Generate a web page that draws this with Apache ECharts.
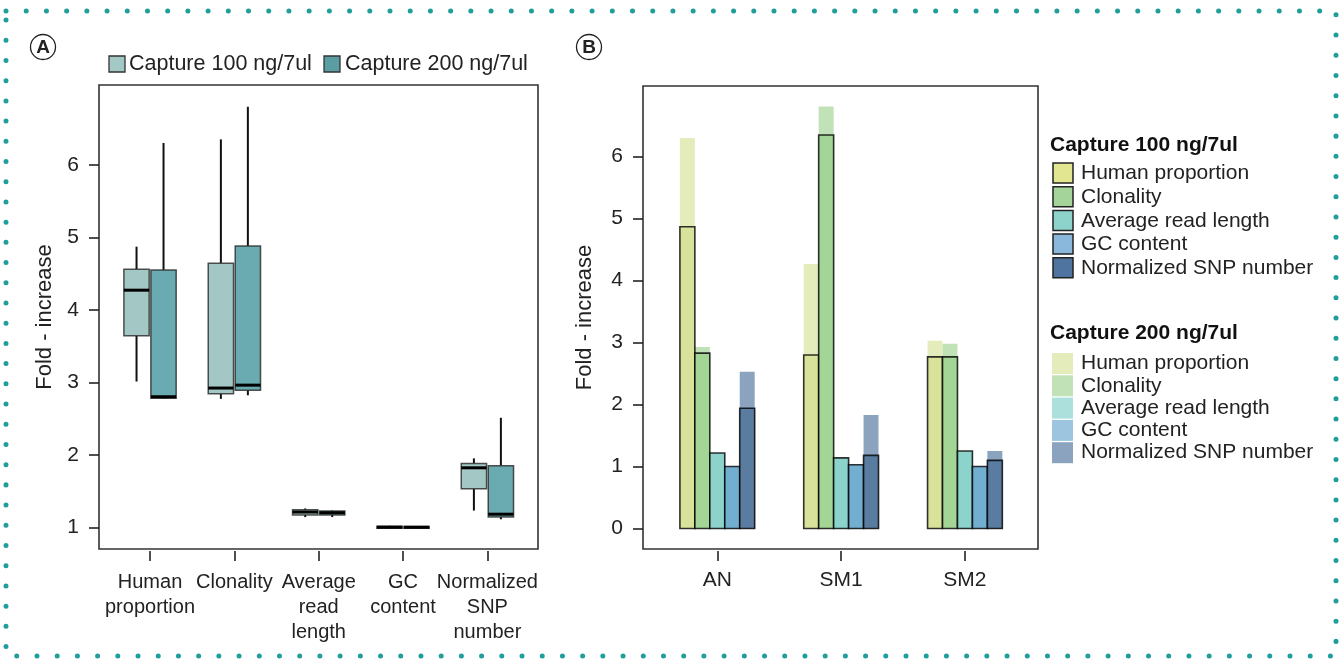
<!DOCTYPE html>
<html>
<head>
<meta charset="utf-8">
<script src="https://cdn.jsdelivr.net/npm/echarts@6/dist/echarts.min.js"></script>
<style>
html,body{margin:0;padding:0;background:#fff;}
#c{width:1343px;height:660px;}
</style>
</head>
<body>
<div id="c"></div>
<script>
// ---------- DATA ----------
const metricLabels = ['Human\nproportion', 'Clonality', 'Average\nread\nlength', 'GC\ncontent', 'Normalized\nSNP\nnumber'];
const metricNames = ['Human proportion', 'Clonality', 'Average read length', 'GC content', 'Normalized SNP number'];
const captureNames = ['Capture 100 ng/7ul', 'Capture 200 ng/7ul'];
const samples = ['AN', 'SM1', 'SM2'];
const yTicksA = [1, 2, 3, 4, 5, 6];
const yTicksB = [0, 1, 2, 3, 4, 5, 6];

// Box plot stats per metric: [low whisker, Q1, median, Q3, high whisker]
const box100 = [
  [3.01, 3.64, 4.27, 4.56, 4.87],
  [2.77, 2.84, 2.92, 4.64, 6.35],
  [1.14, 1.17, 1.21, 1.24, 1.26],
  [0.99, 0.985, 1.00, 1.015, 1.02],
  [1.23, 1.53, 1.82, 1.88, 1.95]
];
const box200 = [
  [2.77, 2.78, 2.80, 4.55, 6.30],
  [2.82, 2.89, 2.96, 4.88, 6.80],
  [1.14, 1.17, 1.20, 1.225, 1.23],
  [0.99, 0.985, 1.00, 1.01, 1.015],
  [1.11, 1.14, 1.18, 1.85, 2.51]
];

// Fold-increase per sample (AN, SM1, SM2) for each metric
const human100 = [4.87, 2.80, 2.77];
const clonality100 = [2.83, 6.35, 2.77];
const readLen100 = [1.22, 1.14, 1.25];
const gc100 = [1.00, 1.03, 1.00];
const snp100 = [1.94, 1.18, 1.10];

const human200 = [6.30, 4.27, 3.03];
const clonality200 = [2.93, 6.81, 2.98];
const readLen200 = [1.20, 1.12, 1.22];
const gc200 = [0.99, 1.00, 0.99];
const snp200 = [2.53, 1.83, 1.25];

// ---------- STYLE ----------
const boxColors = ['#a3c7c4', '#69abb0'];
const legendBoxColors = ['#a4c8c5', '#5a9ea3'];
const colors100 = ['#d9e29b', '#a3d596', '#8bd3cb', '#72aed0', '#5a7ca0'];
const legend100 = ['#e3e690', '#a4d49a', '#8dd3cc', '#8ab8dc', '#4f74a0'];
const colors200 = ['#e5ecbb', '#c1e2b7', '#abe0dc', '#9dc5e0', '#8ba3bf'];
const FONT = 'Liberation Sans, Arial, sans-serif';
const TXT = '#222';

const BOX_OFF = 0.16, BOX_W = 0.30;
const BAR_W = 0.1208;

const vals100 = [human100, clonality100, readLen100, gc100, snp100];
const vals200 = [human200, clonality200, readLen200, gc200, snp200];

function boxData(stats, side) {
  return stats.map((s, i) => [i + 1 + side * BOX_OFF].concat(s));
}
function barData(vals) {
  const out = [];
  vals.forEach((arr, m) => {
    arr.forEach((v, g) => {
      out.push([g + 1 + (m - 2) * BAR_W, v, m]);
    });
  });
  return out;
}

function makeBoxRender(color) {
  return function (params, api) {
    const x = api.value(0);
    const low = api.coord([x, api.value(1)]);
    const q1 = api.coord([x, api.value(2)]);
    const med = api.coord([x, api.value(3)]);
    const q3 = api.coord([x, api.value(4)]);
    const high = api.coord([x, api.value(5)]);
    const w = api.size([BOX_W, 0])[0];
    const cx = low[0];
    return {
      type: 'group',
      children: [
        { type: 'line', shape: { x1: cx, y1: low[1], x2: cx, y2: q1[1] }, style: { stroke: '#111', lineWidth: 2 } },
        { type: 'line', shape: { x1: cx, y1: q3[1], x2: cx, y2: high[1] }, style: { stroke: '#111', lineWidth: 2 } },
        { type: 'rect', shape: { x: cx - w / 2, y: q3[1], width: w, height: Math.max(q1[1] - q3[1], 1) },
          style: { fill: color, stroke: 'rgba(40,40,40,0.8)', lineWidth: 1.5 } },
        { type: 'line', shape: { x1: cx - w / 2, y1: med[1], x2: cx + w / 2, y2: med[1] }, style: { stroke: '#000', lineWidth: 3 } }
      ]
    };
  };
}

function makeBarRender(colorsArr, bordered) {
  return function (params, api) {
    const x = api.value(0);
    const v = api.value(1);
    const m = api.value(2);
    const p0 = api.coord([x - BAR_W / 2, v]);
    const p1 = api.coord([x + BAR_W / 2, 0]);
    return {
      type: 'rect',
      shape: { x: p0[0], y: p0[1], width: p1[0] - p0[0], height: p1[1] - p0[1] },
      style: bordered
        ? { fill: colorsArr[m], stroke: 'rgba(0,0,0,0.8)', lineWidth: 1.6 }
        : { fill: colorsArr[m] }
    };
  };
}

// ---------- GRAPHICS (legends, labels, frame) ----------
const graphics = [];
// dotted border
graphics.push({
  type: 'polyline', silent: true,
  shape: { points: [[6, 11], [1336, 11], [1336, 656], [6, 656], [6, 11]] },
  style: { stroke: '#1f9e9b', lineWidth: 5, lineCap: 'round', lineDash: [0.01, 20.2], fill: null }
});
// circled panel letters
[['A', 43], ['B', 589]].forEach(([t, x]) => {
  graphics.push({ type: 'circle', shape: { cx: x, cy: 47, r: 12.5 }, style: { fill: '#fff', stroke: '#222', lineWidth: 1.3 } });
  graphics.push({ type: 'text', x: x, y: 48, style: { text: t, font: 'bold 19px ' + FONT, fill: '#222', align: 'center', verticalAlign: 'middle' } });
});
// panel A legend
[[109, 129, 0], [324, 345, 1]].forEach(([sx, tx, i]) => {
  graphics.push({ type: 'rect', shape: { x: sx, y: 56, width: 16, height: 16 }, style: { fill: legendBoxColors[i], stroke: '#333', lineWidth: 1.3 } });
  graphics.push({ type: 'text', x: tx, y: 64, style: { text: captureNames[i], font: '21.5px ' + FONT, fill: TXT, verticalAlign: 'middle' } });
});
// panel B legend
graphics.push({ type: 'text', x: 1050, y: 145, style: { text: captureNames[0], font: 'bold 21px ' + FONT, fill: '#111', verticalAlign: 'middle' } });
graphics.push({ type: 'text', x: 1050, y: 333, style: { text: captureNames[1], font: 'bold 21px ' + FONT, fill: '#111', verticalAlign: 'middle' } });
metricNames.forEach((name, m) => {
  const y1 = 163 + m * 23.7;
  graphics.push({ type: 'rect', shape: { x: 1053, y: y1, width: 20, height: 20 }, style: { fill: legend100[m], stroke: '#222', lineWidth: 1.5 } });
  graphics.push({ type: 'text', x: 1081, y: y1 + 10.5, style: { text: name, font: '21px ' + FONT, fill: TXT, verticalAlign: 'middle' } });
  const y2 = 353 + m * 22.3;
  graphics.push({ type: 'rect', shape: { x: 1052, y: y2, width: 21, height: 21 }, style: { fill: colors200[m] } });
  graphics.push({ type: 'text', x: 1081, y: y2 + 10.5, style: { text: name, font: '21px ' + FONT, fill: TXT, verticalAlign: 'middle' } });
});

// ---------- CHART ----------
const chart = echarts.init(document.getElementById('c'), null, { renderer: 'canvas' });

const axisTickStyle = { show: true, inside: false, length: 10, lineStyle: { color: '#222', width: 1.6 } };
const labelStyle = { color: TXT, fontSize: 21, fontFamily: FONT };
const nameStyle = { color: TXT, fontSize: 22, fontFamily: FONT };

chart.setOption({
  backgroundColor: '#fff',
  animation: false,
  grid: [
    { left: 99, top: 85, width: 439, height: 464, show: true, borderColor: '#333', borderWidth: 1.6, backgroundColor: 'transparent' },
    { left: 643, top: 86, width: 395, height: 463, show: true, borderColor: '#333', borderWidth: 1.6, backgroundColor: 'transparent' }
  ],
  xAxis: [
    {
      type: 'value', gridIndex: 0, min: 0.395, max: 5.6, offset: 2,
      axisLine: { show: false, onZero: false }, splitLine: { show: false },
      axisTick: Object.assign({ customValues: [1, 2, 3, 4, 5] }, axisTickStyle),
      axisLabel: Object.assign({}, labelStyle, { customValues: [1, 2, 3, 4, 5], margin: 19, lineHeight: 25, fontSize: 20,
        formatter: v => metricLabels[Math.round(v) - 1] || '' })
    },
    {
      type: 'value', gridIndex: 1, min: 0.40, max: 3.59, offset: 2,
      axisLine: { show: false, onZero: false }, splitLine: { show: false },
      axisTick: Object.assign({ customValues: [1, 2, 3] }, axisTickStyle),
      axisLabel: Object.assign({}, labelStyle, { customValues: [1, 2, 3], margin: 19,
        formatter: v => samples[Math.round(v) - 1] || '' })
    }
  ],
  yAxis: [
    {
      type: 'value', gridIndex: 0, min: 0.70, max: 7.10,
      axisLine: { show: false, onZero: false }, splitLine: { show: false },
      axisTick: Object.assign({ customValues: yTicksA }, axisTickStyle),
      axisLabel: Object.assign({}, labelStyle, { customValues: yTicksA, margin: 20 }),
      name: 'Fold - increase', nameLocation: 'middle', nameGap: 43, nameRotate: 90,
      nameTextStyle: nameStyle
    },
    {
      type: 'value', gridIndex: 1, min: -0.33, max: 7.14,
      axisLine: { show: false, onZero: false }, splitLine: { show: false },
      axisTick: Object.assign({ customValues: yTicksB }, axisTickStyle),
      axisLabel: Object.assign({}, labelStyle, { customValues: yTicksB, margin: 20 }),
      name: 'Fold - increase', nameLocation: 'middle', nameGap: 47, nameRotate: 90,
      nameTextStyle: nameStyle
    }
  ],
  series: [
    { type: 'custom', name: captureNames[0], xAxisIndex: 0, yAxisIndex: 0, renderItem: makeBoxRender(boxColors[0]),
      data: boxData(box100, -1), encode: { x: 0, y: [1, 2, 3, 4, 5] }, clip: false },
    { type: 'custom', name: captureNames[1], xAxisIndex: 0, yAxisIndex: 0, renderItem: makeBoxRender(boxColors[1]),
      data: boxData(box200, 1), encode: { x: 0, y: [1, 2, 3, 4, 5] }, clip: false },
    { type: 'custom', name: captureNames[1] + ' bars', xAxisIndex: 1, yAxisIndex: 1, renderItem: makeBarRender(colors200, false),
      data: barData(vals200), encode: { x: 0, y: 1 }, z: 1 },
    { type: 'custom', name: captureNames[0] + ' bars', xAxisIndex: 1, yAxisIndex: 1, renderItem: makeBarRender(colors100, true),
      data: barData(vals100), encode: { x: 0, y: 1 }, z: 2 }
  ],
  graphic: graphics
});
</script>
</body>
</html>
